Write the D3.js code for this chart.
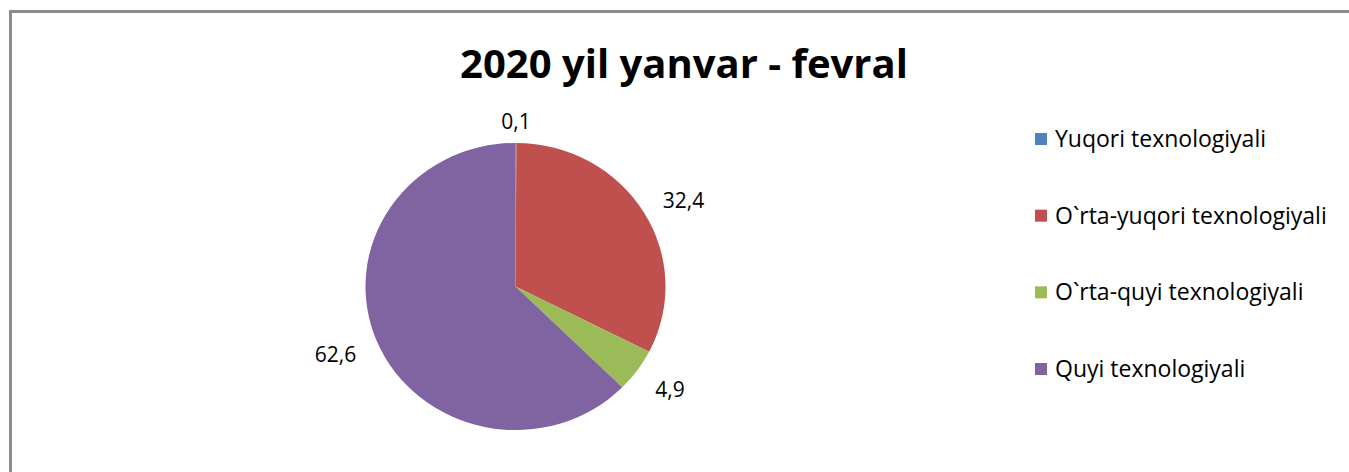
<!DOCTYPE html>
<html>
<head>
<meta charset="utf-8">
<script src="https://cdn.jsdelivr.net/npm/d3@7"></script>
<style>
  body { margin: 0; background: #fff; }
  text { font-family: "Open Sans", "Noto Sans", sans-serif; fill: #000; }
</style>
</head>
<body>
<div id="chart"></div>
<script>
var title = "2020 yil yanvar - fevral";
var categories = ["Yuqori texnologiyali", "O`rta-yuqori texnologiyali", "O`rta-quyi texnologiyali", "Quyi texnologiyali"];
var values = [0.1, 32.4, 4.9, 62.6];
var valueLabels = ["0,1", "32,4", "4,9", "62,6"];
var colors = ["#4F81BD", "#C0504D", "#9BBB59", "#8064A2"];

var width = 1349, height = 472;
var svg = d3.select("#chart").append("svg")
    .attr("width", width)
    .attr("height", height);

// chart frame (runs off the right and bottom edge)
svg.append("rect")
    .attr("x", 10.5).attr("y", 11.5)
    .attr("width", 1360).attr("height", 480)
    .attr("fill", "#fff")
    .attr("stroke", "#8c8c8c")
    .attr("stroke-width", 3);

svg.append("text")
    .attr("x", 684).attr("y", 78)
    .attr("text-anchor", "middle")
    .style("font-size", "40px")
    .style("font-weight", "bold")
    .text(title);

var radius = 150;
var cx = 515.5, cy = 286.5, sy = 0.957;

var pie = d3.pie().sort(null).value(function(d) { return d; });
var arcs = pie(values);
var arc = d3.arc().innerRadius(0).outerRadius(radius);

var g = svg.append("g")
    .attr("transform", "translate(" + cx + "," + cy + ") scale(1," + sy + ")");

g.selectAll("path")
    .data(arcs)
    .enter().append("path")
    .attr("d", arc)
    .attr("fill", function(d, i) { return colors[i]; });

var labelR = radius * 1.15;
function mid(d) { return (d.startAngle + d.endAngle) / 2; }

svg.selectAll(".lbl")
    .data(arcs)
    .enter().append("text")
    .attr("class", "lbl")
    .attr("x", function(d) { return cx + Math.sin(mid(d)) * labelR; })
    .attr("y", function(d) {
        var c = -Math.cos(mid(d));
        return cy + c * labelR * sy + Math.max(0, c) * 12;
    })
    .attr("dy", "0.35em")
    .attr("text-anchor", function(d) {
        var s = Math.sin(mid(d));
        if (s > 0.2) return "start";
        if (s < -0.2) return "end";
        return "middle";
    })
    .style("font-size", "21px")
    .text(function(d, i) { return valueLabels[i]; });

var y = d3.scalePoint().domain(categories).range([139, 369]);
var legend = svg.selectAll(".leg")
    .data(categories)
    .enter().append("g")
    .attr("class", "leg")
    .attr("transform", function(d) { return "translate(1035," + y(d) + ")"; });

legend.append("rect")
    .attr("x", 0).attr("y", -6)
    .attr("width", 12).attr("height", 12)
    .attr("fill", function(d, i) { return colors[i]; });

legend.append("text")
    .attr("x", 20).attr("y", 0)
    .attr("dy", "0.35em")
    .style("font-size", "23px")
    .text(function(d) { return d; });
</script>
</body>
</html>
